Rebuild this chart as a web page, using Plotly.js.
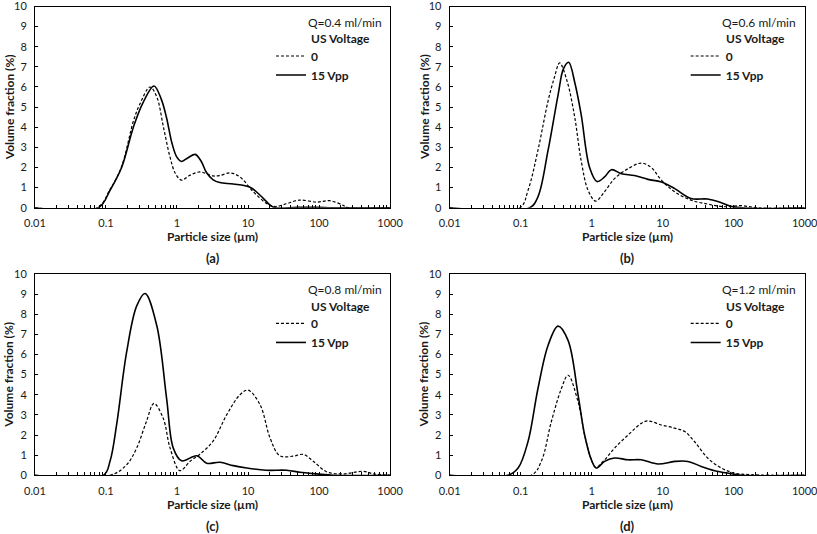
<!DOCTYPE html>
<html><head><meta charset="utf-8">
<script src="https://cdn.plot.ly/plotly-3.0.1.min.js"></script>
<style>html,body{margin:0;padding:0;background:#fff}#chart{width:817px;height:534px}</style>
</head><body><div id="chart"></div>
<script>
// ---- labels ----
const seriesNames = ['0', '15 Vpp'];
const legendTitle = 'US Voltage';
const flowRates = ['Q=0.4 ml/min', 'Q=0.6 ml/min', 'Q=0.8 ml/min', 'Q=1.2 ml/min'];
const panelLabels = ['(a)', '(b)', '(c)', '(d)'];
const xTitle = 'Particle size (µm)';
const yTitle = 'Volume fraction (%)';
const xTickLabels = ['0.01', '0.1', '1', '10', '100', '1000'];
const xDecades = [0.01, 0.1, 1, 10, 100, 1000];

// ---- panel (a) Q=0.4 ----
const aSize0 = [0.01, 0.075, 0.114, 0.166, 0.243, 0.3, 0.417, 0.52, 0.645, 0.8, 0.95, 1.16, 1.5, 2.1, 3.2, 4.0, 5.6, 7.7, 11.9, 18.3, 24, 35, 53, 93, 142, 218, 256, 1000];
const aVol0  = [0, 0, 0.9, 2.05, 4.3, 5.15, 6.0, 5.5, 4.0, 2.5, 1.7, 1.37, 1.6, 1.78, 1.58, 1.6, 1.73, 1.53, 0.79, 0.21, 0.06, 0.2, 0.38, 0.28, 0.35, 0.12, 0, 0];
const aSize15 = [0.01, 0.078, 0.114, 0.166, 0.243, 0.33, 0.474, 0.6, 0.71, 0.85, 1.0, 1.16, 1.45, 1.8, 2.2, 2.6, 3.2, 4.0, 6.2, 10.7, 14.8, 20.5, 24, 50, 100, 150, 1000];
const aVol15  = [0, 0, 0.87, 2.0, 4.0, 5.2, 6.05, 5.4, 4.5, 3.2, 2.5, 2.3, 2.5, 2.65, 2.3, 1.75, 1.4, 1.25, 1.18, 1.02, 0.62, 0.13, 0, 0.02, 0.02, 0, 0];

// ---- panel (b) Q=0.6 ----
const bSize0 = [0.01, 0.097, 0.127, 0.175, 0.243, 0.3, 0.354, 0.45, 0.577, 0.71, 0.89, 1.14, 1.52, 2.1, 3.25, 5.0, 6.9, 9.6, 14.8, 25, 43, 75, 127, 218, 1000];
const bVol0  = [0, 0, 0.87, 2.85, 5.3, 6.5, 7.2, 6.3, 4.5, 2.35, 0.87, 0.33, 0.8, 1.45, 1.94, 2.22, 2.0, 1.37, 0.79, 0.38, 0.18, 0.05, 0.1, 0, 0];
const bSize15 = [0.01, 0.134, 0.175, 0.243, 0.336, 0.4, 0.474, 0.58, 0.71, 0.935, 1.19, 1.52, 1.9, 2.62, 4.0, 6.2, 9.6, 14.8, 25, 43, 67, 103, 1000];
const bVol15  = [0, 0, 0.54, 2.85, 5.6, 6.9, 7.23, 6.2, 4.65, 2.0, 1.3, 1.53, 1.89, 1.69, 1.6, 1.41, 1.28, 0.95, 0.46, 0.43, 0.25, 0.03, 0];

// ---- panel (c) Q=0.8 ----
const cSize0 = [0.01, 0.114, 0.195, 0.27, 0.37, 0.474, 0.64, 0.8, 1.1, 1.53, 2.1, 3.2, 5.0, 7.7, 10, 14.8, 20.5, 28, 43, 60, 83, 127, 218, 418, 590, 1000];
const cVol0  = [0, 0, 0.52, 1.35, 2.66, 3.57, 2.83, 1.35, 0.23, 0.7, 1.05, 1.68, 3.0, 4.0, 4.23, 3.5, 1.84, 0.97, 0.95, 1.04, 0.7, 0.18, 0.07, 0.2, 0.07, 0];
const cSize15 = [0.01, 0.092, 0.114, 0.141, 0.195, 0.27, 0.355, 0.518, 0.715, 0.887, 1.16, 1.9, 2.62, 4.0, 6.2, 9.6, 18, 35, 54, 93, 160, 1000];
const cVol15  = [0, 0, 0.7, 2.5, 6.1, 8.4, 9.03, 7.45, 3.8, 1.35, 0.72, 0.97, 0.6, 0.65, 0.48, 0.36, 0.25, 0.25, 0.15, 0.07, 0, 0];

// ---- panel (d) Q=1.2 ----
const dSize0 = [0.01, 0.141, 0.195, 0.27, 0.374, 0.465, 0.643, 0.796, 0.99, 1.14, 1.52, 2.1, 3.25, 5.0, 6.2, 9.6, 14.8, 20.5, 28, 43, 67, 103, 177, 1000];
const dVol0  = [0, 0, 0.69, 2.66, 4.3, 4.97, 3.65, 2.0, 0.77, 0.4, 0.77, 1.35, 2.0, 2.58, 2.7, 2.5, 2.34, 2.17, 1.68, 0.86, 0.36, 0.11, 0.03, 0];
const dSize15 = [0.01, 0.066, 0.092, 0.127, 0.175, 0.243, 0.336, 0.465, 0.643, 0.796, 0.99, 1.16, 1.52, 2.1, 3.25, 5.0, 8.6, 14.8, 22.7, 35, 54, 93, 128, 1000];
const dVol15  = [0, 0, 0.36, 1.68, 4.3, 6.45, 7.41, 6.7, 4.0, 2.0, 0.77, 0.36, 0.69, 0.86, 0.77, 0.77, 0.56, 0.69, 0.69, 0.44, 0.23, 0.08, 0, 0];

// ---- build ----
const FONT = 'Lato, "Open Sans", sans-serif';
const TXT = '#1a1a1a';
const W = 817, H = 534;
const panels = [
  {s0: aSize0, v0: aVol0, s15: aSize15, v15: aVol15, xd: [0.0428, 0.4774], yd: [0.611, 0.9878]},
  {s0: bSize0, v0: bVol0, s15: bSize15, v15: bVol15, xd: [0.5504, 0.9849], yd: [0.611, 0.9878]},
  {s0: cSize0, v0: cVol0, s15: cSize15, v15: cVol15, xd: [0.0428, 0.4774], yd: [0.1099, 0.4870]},
  {s0: dSize0, v0: dVol0, s15: dSize15, v15: dVol15, xd: [0.5504, 0.9849], yd: [0.1099, 0.4870]}
];

// minor log tick positions with labels only at decades
const tickVals = [], tickText = [];
for (let d = 0; d < xDecades.length; d++) {
  const base = xDecades[d];
  const last = d === xDecades.length - 1 ? 1 : 9;
  for (let k = 1; k <= last; k++) {
    tickVals.push(k * base);
    tickText.push(k === 1 ? xTickLabels[d] : '');
  }
}

const data = [];
const layout = {
  width: W, height: H,
  margin: {l: 0, r: 0, t: 0, b: 0},
  paper_bgcolor: '#fff', plot_bgcolor: '#fff',
  font: {family: FONT, size: 11, color: TXT},
  annotations: []
};

panels.forEach((p, i) => {
  const n = i === 0 ? '' : String(i + 1);
  const xa = 'x' + n, ya = 'y' + n;
  const lg = 'legend' + n;
  data.push({
    x: p.s0, y: p.v0, xaxis: xa, yaxis: ya, name: seriesNames[0], legend: lg,
    type: 'scatter', mode: 'lines',
    line: {color: '#000', width: 1.2, dash: '3px,2px', shape: 'spline', smoothing: 1}
  });
  data.push({
    x: p.s15, y: p.v15, xaxis: xa, yaxis: ya, name: seriesNames[1], legend: lg,
    type: 'scatter', mode: 'lines',
    line: {color: '#000', width: 1.6, shape: 'spline', smoothing: 1}
  });
  layout['xaxis' + n] = {
    domain: p.xd, anchor: ya, type: 'log', range: [-2, 3],
    tickmode: 'array', tickvals: tickVals, ticktext: tickText,
    ticks: 'inside', ticklen: 3, tickwidth: 1, tickcolor: '#000',
    ticklabelstandoff: 5, ticklabeloverflow: 'allow',
    showline: true, linecolor: '#000', linewidth: 1, mirror: true,
    showgrid: false, zeroline: false,
    tickfont: {family: FONT, size: 11, color: TXT}
  };
  layout['yaxis' + n] = {
    domain: p.yd, anchor: xa, range: [0, 10], dtick: 1, tick0: 0,
    ticks: 'inside', ticklen: 3, tickwidth: 1, tickcolor: '#000',
    ticklabelstandoff: 5, ticklabeloverflow: 'allow',
    showline: true, linecolor: '#000', linewidth: 1, mirror: true,
    showgrid: false, zeroline: false,
    tickfont: {family: FONT, size: 11, color: TXT}
  };
  const leftPx = p.xd[0] * W;
  const topPx = (1 - p.yd[1]) * H;
  layout[lg] = {
    x: (leftPx + 236) / W, y: 1 - (topPx + 35) / H,
    xanchor: 'left', yanchor: 'top',
    bgcolor: 'rgba(0,0,0,0)', borderwidth: 0,
    itemwidth: 30, tracegroupgap: 0,
    font: {family: FONT, size: 12, color: TXT, weight: 'bold'}
  };
  const xr = xa + ' domain', yr = ya + ' domain';
  layout.annotations.push(
    {xref: xr, yref: yr, x: 0.762, y: 0.923, xanchor: 'left', yanchor: 'middle', showarrow: false,
     text: flowRates[i], font: {family: FONT, size: 12, color: TXT}},
    {xref: xr, yref: yr, x: 0.772, y: 0.839, xanchor: 'left', yanchor: 'middle', showarrow: false,
     text: legendTitle, font: {family: FONT, size: 12, color: TXT, weight: 'bold'}},
    {xref: xr, yref: yr, x: 0.5, y: -0.145, xanchor: 'center', yanchor: 'middle', showarrow: false,
     text: xTitle, font: {family: FONT, size: 12, color: TXT, weight: 'bold'}},
    {xref: xr, yref: yr, x: 0.5, y: -0.25, xanchor: 'center', yanchor: 'middle', showarrow: false,
     text: panelLabels[i], font: {family: FONT, size: 13, color: TXT, weight: 'bold'}},
    {xref: xr, yref: yr, x: -0.073, y: 0.5, xanchor: 'center', yanchor: 'middle', showarrow: false,
     textangle: -90, text: yTitle, font: {family: FONT, size: 12, color: TXT, weight: 'bold'}}
  );
});

Plotly.newPlot('chart', data, layout, {displayModeBar: false, staticPlot: true});
</script>
</body></html>
